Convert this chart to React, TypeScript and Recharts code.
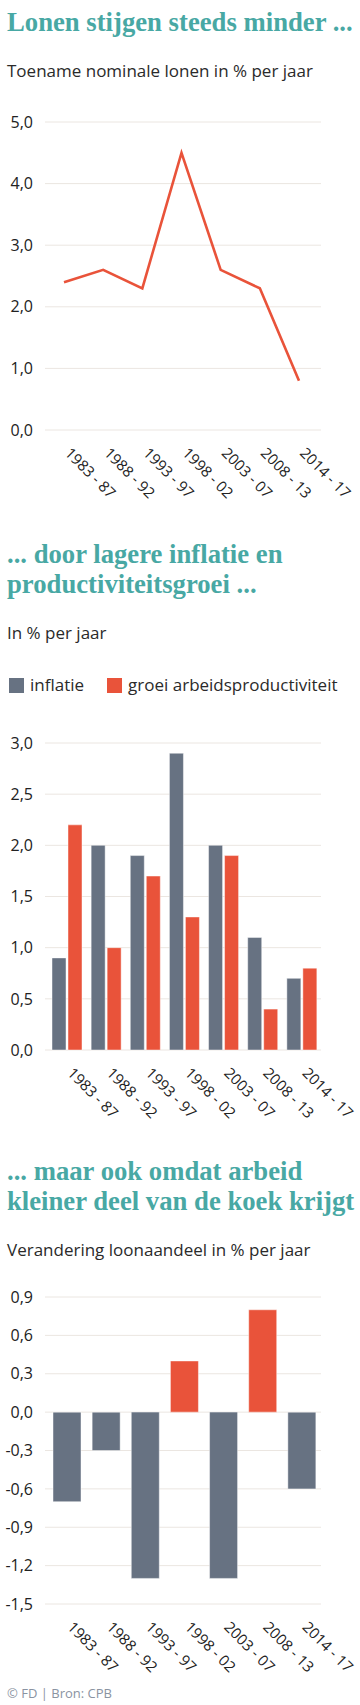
import React from "react";
import {
  Bar,
  BarChart,
  CartesianGrid,
  Cell,
  Line,
  LineChart,
  XAxis,
  YAxis,
} from "recharts";

const periods = [
  "1983 - 87",
  "1988 - 92",
  "1993 - 97",
  "1998 - 02",
  "2003 - 07",
  "2008 - 13",
  "2014 - 17",
];
const nominalWages = [2.4, 2.6, 2.3, 4.5, 2.6, 2.3, 0.8];
const inflation = [0.9, 2.0, 1.9, 2.9, 2.0, 1.1, 0.7];
const productivity = [2.2, 1.0, 1.7, 1.3, 1.9, 0.4, 0.8];
const labourShare = [-0.7, -0.3, -1.3, 0.4, -1.3, 0.8, -0.6];

const wageTicks = [0, 1, 2, 3, 4, 5];
const growthTicks = [0, 0.5, 1, 1.5, 2, 2.5, 3];
const shareTicks = [-1.5, -1.2, -0.9, -0.6, -0.3, 0, 0.3, 0.6, 0.9];

const seriesNames = ["inflatie", "groei arbeidsproductiviteit"];

const TEAL = "#48a8a4";
const ORANGE = "#e9533a";
const SLATE = "#677282";
const GRID = "#ebe6e1";
const SANS = "'Open Sans', sans-serif";
const SERIF = "'Liberation Serif', serif";

const fmt = (v: number) => v.toFixed(1).replace(".", ",");

const wageData = periods.map((p, i) => ({ period: p, value: nominalWages[i] }));
const growthData = periods.map((p, i) => ({
  period: p,
  inflatie: inflation[i],
  productiviteit: productivity[i],
}));
const shareData = periods.map((p, i) => ({ period: p, value: labourShare[i] }));

function SlantTick({ x, y, payload }: any) {
  return (
    <text
      x={x}
      y={y + 24}
      transform={`rotate(45, ${x}, ${y + 24})`}
      textAnchor="start"
      fontSize={15}
      fontFamily={SANS}
      fill="#222"
    >
      {payload.value}
    </text>
  );
}

const yTick = { fontSize: 16, fontFamily: SANS, fill: "#222" };

const titleStyle: React.CSSProperties = {
  position: "absolute",
  left: 7,
  fontFamily: SERIF,
  fontWeight: 700,
  fontSize: 26.7,
  lineHeight: "29.5px",
  color: TEAL,
  whiteSpace: "nowrap",
};

const subStyle: React.CSSProperties = {
  position: "absolute",
  left: 7,
  fontFamily: SANS,
  fontSize: 17,
  lineHeight: "20px",
  color: "#2a2a2a",
  whiteSpace: "nowrap",
};

const boxStyle = (top: number): React.CSSProperties => ({
  position: "absolute",
  left: 0,
  top,
});

export default function App() {
  return (
    <div style={{ position: "relative", width: 360, height: 1705, background: "#fff" }}>
      <style>{`body{margin:0}`}</style>

      <div style={{ ...titleStyle, top: 8 }}>Lonen stijgen steeds minder ...</div>
      <div style={{ ...subStyle, top: 61 }}>Toename nominale lonen in % per jaar</div>
      <div style={boxStyle(112)}>
        <LineChart
          width={360}
          height={398}
          data={wageData}
          margin={{ top: 10, right: 39, bottom: 0, left: 0 }}
          style={{ overflow: "visible" }}
        >
          <CartesianGrid vertical={false} stroke={GRID} />
          <XAxis
            dataKey="period"
            axisLine={false}
            tickLine={false}
            tickSize={0}
            tickMargin={0}
            height={80}
            interval={0}
            padding={{ left: 19, right: 22 }}
            tick={<SlantTick />}
          />
          <YAxis
            width={45}
            domain={[0, 5]}
            ticks={wageTicks}
            tickFormatter={fmt}
            axisLine={false}
            tickLine={false}
            tickSize={0}
            tickMargin={12}
            tick={yTick}
          />
          <Line
            dataKey="value"
            stroke={ORANGE}
            strokeWidth={2.6}
            dot={false}
            isAnimationActive={false}
          />
        </LineChart>
      </div>

      <div style={{ ...titleStyle, top: 540 }}>
        ... door lagere inflatie en
        <br />
        productiviteitsgroei ...
      </div>
      <div style={{ ...subStyle, top: 623 }}>In % per jaar</div>
      <div style={{ ...subStyle, top: 675, display: "flex", alignItems: "center" }}>
        <span style={{ width: 15, height: 15, background: SLATE, marginRight: 6, marginLeft: 2 }} />
        <span style={{ marginRight: 23 }}>{seriesNames[0]}</span>
        <span style={{ width: 15, height: 15, background: ORANGE, marginRight: 6 }} />
        <span>{seriesNames[1]}</span>
      </div>
      <div style={boxStyle(733)}>
        <BarChart
          width={360}
          height={397}
          data={growthData}
          margin={{ top: 10, right: 39, bottom: 0, left: 0 }}
          barSize={14}
          barGap={2}
          style={{ overflow: "visible" }}
        >
          <CartesianGrid vertical={false} stroke={GRID} />
          <XAxis
            dataKey="period"
            axisLine={false}
            tickLine={false}
            tickSize={0}
            tickMargin={0}
            height={80}
            interval={0}
            padding={{ left: 2, right: 0 }}
            tick={<SlantTick />}
          />
          <YAxis
            width={45}
            domain={[0, 3]}
            ticks={growthTicks}
            tickFormatter={fmt}
            axisLine={false}
            tickLine={false}
            tickSize={0}
            tickMargin={12}
            tick={yTick}
          />
          <Bar
            dataKey="inflatie"
            name={seriesNames[0]}
            fill={SLATE}
            stroke="#fff"
            strokeOpacity={0.45}
            isAnimationActive={false}
          />
          <Bar
            dataKey="productiviteit"
            name={seriesNames[1]}
            fill={ORANGE}
            stroke="#fff"
            strokeOpacity={0.45}
            isAnimationActive={false}
          />
        </BarChart>
      </div>

      <div style={{ ...titleStyle, top: 1157 }}>
        ... maar ook omdat arbeid
        <br />
        kleiner deel van de koek krijgt
      </div>
      <div style={{ ...subStyle, top: 1240 }}>Verandering loonaandeel in % per jaar</div>
      <div style={boxStyle(1287)}>
        <BarChart
          width={360}
          height={397}
          data={shareData}
          margin={{ top: 10, right: 39, bottom: 0, left: 0 }}
          barSize={28}
          style={{ overflow: "visible" }}
        >
          <CartesianGrid vertical={false} stroke={GRID} />
          <XAxis
            dataKey="period"
            axisLine={false}
            tickLine={false}
            tickSize={0}
            tickMargin={0}
            height={80}
            interval={0}
            padding={{ left: 2, right: 0 }}
            tick={<SlantTick />}
          />
          <YAxis
            width={45}
            domain={[-1.5, 0.9]}
            ticks={shareTicks}
            tickFormatter={fmt}
            axisLine={false}
            tickLine={false}
            tickSize={0}
            tickMargin={12}
            tick={yTick}
          />
          <Bar dataKey="value" stroke="#fff" strokeOpacity={0.45} isAnimationActive={false}>
            {shareData.map((d, i) => (
              <Cell key={`cell-${i}`} fill={d.value < 0 ? SLATE : ORANGE} />
            ))}
          </Bar>
        </BarChart>
      </div>

      <div
        style={{
          position: "absolute",
          left: 7,
          top: 1685,
          fontFamily: SANS,
          fontSize: 13,
          lineHeight: "16px",
          color: "#8a93a1",
          whiteSpace: "nowrap",
        }}
      >
        © FD | Bron: CPB
      </div>
    </div>
  );
}
